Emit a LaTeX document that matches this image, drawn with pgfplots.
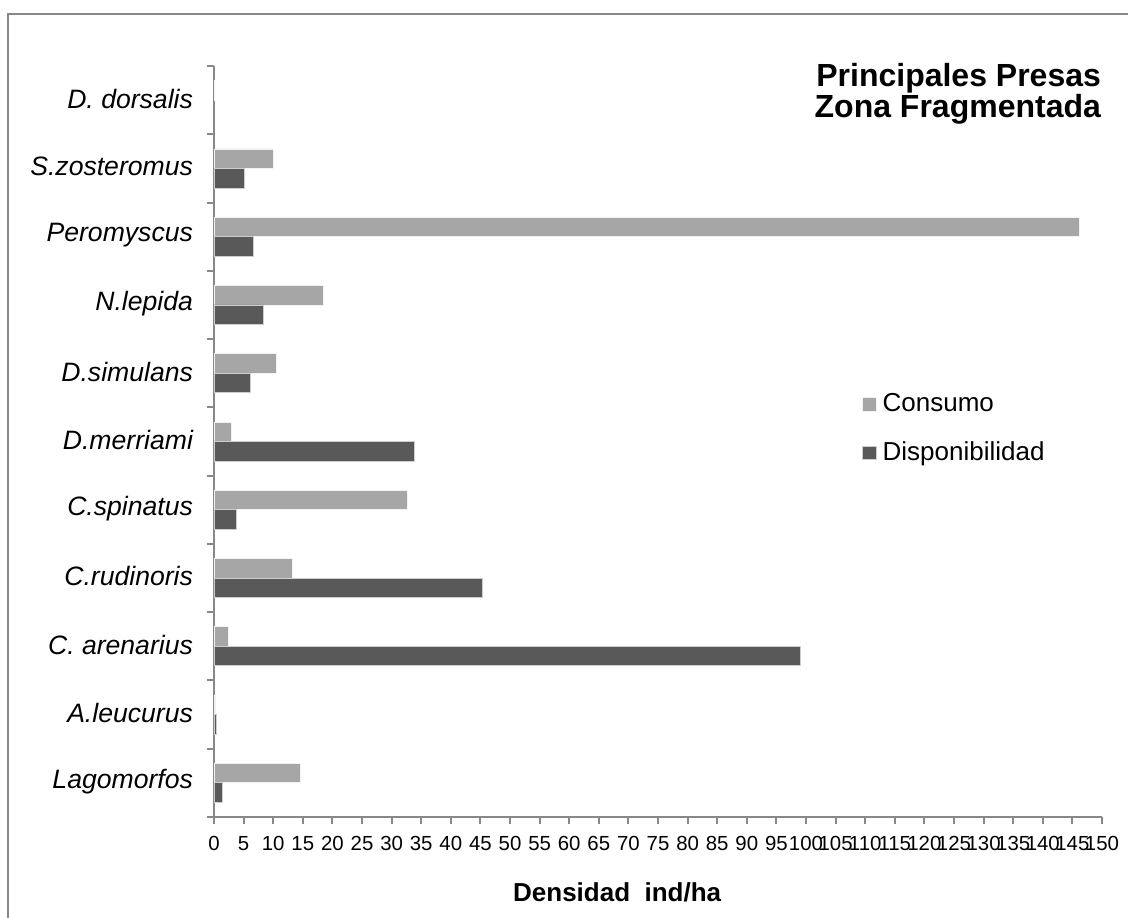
\documentclass[border=0pt]{standalone}
\usepackage{pgfplots}
\pgfplotsset{compat=1.18}
\usepackage{fontspec}
\setmainfont{Liberation Sans}

\definecolor{consumo}{HTML}{A6A6A6}
\definecolor{dispon}{HTML}{595959}
\definecolor{axisgray}{HTML}{888888}

% y = 0 (bottom) ... 10 (top); nan = no bar
\pgfplotstableread{
y consumo dispon
0  14.6  1.5
1  0.2   0.35
2  2.5   99.1
3  13.2  45.3
4  32.7  3.7
5  2.9   33.9
6  10.5  6.2
7  18.5  8.3
8  146.2 6.6
9  10.0  5.2
10 0.15  nan
}\presas

\begin{document}
\begin{tikzpicture}
\useasboundingbox (0,0) rectangle (564pt,-458.5pt);
% chart frame
\draw[axisgray, line width=1pt] (4pt,-470pt) -- (4pt,-7pt) -- (575pt,-7pt);

\begin{axis}[
  at={(107pt,-408.5pt)}, anchor=south west,
  scale only axis, width=444pt, height=375.5pt,
  xbar, bar width=9.75pt,
  xmin=0, xmax=150, ymin=-0.5, ymax=10.5,
  axis x line*=bottom, axis y line*=left,
  axis line style={axisgray, line width=1pt},
  tick style={axisgray, line width=1pt},
  tick align=outside, major tick length=3.5pt,
  xtick={0,5,...,150},
  /pgf/number format/assume math mode=true,
  xticklabel style={font=\fontsize{10.2}{12}\selectfont, text=black, yshift=-2.5pt},
  ytick={-0.5,0.5,...,10.5}, yticklabel=\empty,
  extra y ticks={0,1,...,10},
  extra y tick labels={Lagomorfos, A.leucurus, C. arenarius, C.rudinoris, C.spinatus, D.merriami, D.simulans, N.lepida, Peromyscus, S.zosteromus, D. dorsalis},
  extra y tick style={major tick length=0pt, yticklabel style={font=\fontsize{13.3}{16}\selectfont\itshape, text=black, xshift=-7pt, yshift=0.8pt}},
  xlabel={Densidad\ \ ind/ha},
  xlabel style={at={(axis description cs:0.454,-0.0999)}, anchor=center, font=\bfseries\fontsize{13}{15}\selectfont},
  legend style={at={(axis description cs:0.723,0.517)}, anchor=west, draw=none, fill=none,
    font=\fontsize{13}{15}\selectfont, row sep=9.5pt, cells={anchor=west},
    nodes={inner xsep=3pt}},
  legend image code/.code={\fill[#1] (0pt,-3.35pt) rectangle (6.7pt,3.35pt);},
]
\addplot[fill=consumo, draw=white!85!consumo, line width=0.4pt, bar shift=4.875pt] table[x=consumo, y=y] {\presas};
\addplot[fill=dispon, draw=white!70!dispon, line width=0.4pt, bar shift=-4.875pt] table[x=dispon, y=y] {\presas};
\legend{Consumo, Disponibilidad}
\end{axis}

\node[anchor=base east, font=\bfseries\fontsize{16}{15}\selectfont] at (554pt,-43.25pt) {Principales Presas};
\node[anchor=base east, font=\bfseries\fontsize{16}{15}\selectfont] at (554pt,-58.5pt) {Zona Fragmentada};
\end{tikzpicture}
\end{document}
